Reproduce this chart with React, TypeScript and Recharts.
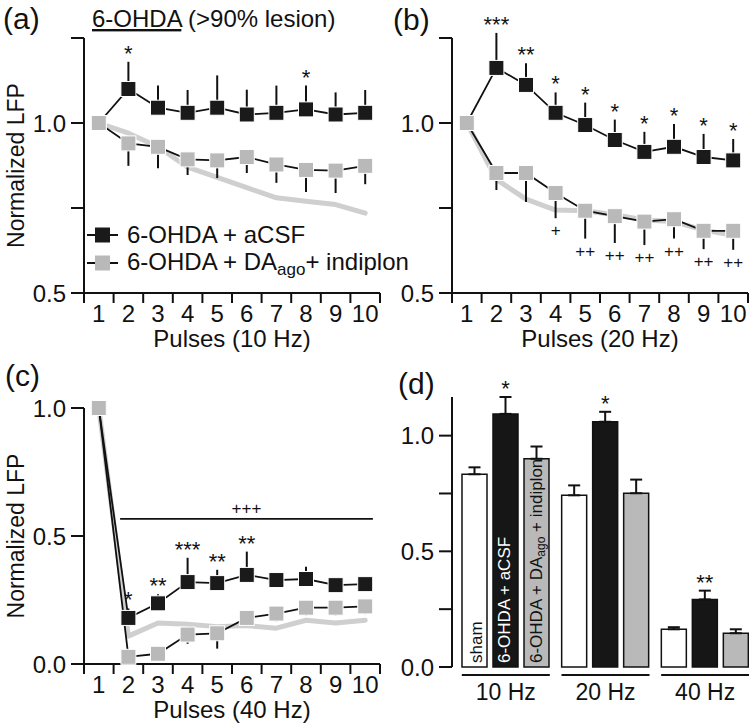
import React from 'react';
import { LineChart, Line, XAxis, YAxis, ErrorBar, LabelList, Legend, ReferenceLine, BarChart, Bar } from 'recharts';

const FONT = '"Liberation Sans", Arial, Helvetica, sans-serif';
const INK = '#111111';
const GRAY_SQ = '#b9b9b9';
const SHAM_LINE = '#cfcfcf';

// ---------- shared x axis ----------
const pulses = [1, 2, 3, 4, 5, 6, 7, 8, 9, 10];
const pulseTicks = [0.5, 1, 1.5, 2, 2.5, 3, 3.5, 4, 4.5, 5, 5.5, 6, 6.5, 7, 7.5, 8, 8.5, 9, 9.5, 10, 10.5];

// ---------- (a) 10 Hz ----------
const acsf10 = [1.0, 1.1, 1.045, 1.03, 1.045, 1.025, 1.03, 1.04, 1.025, 1.03];
const acsf10Err = [0, 0.08, 0.065, 0.067, 0.095, 0.073, 0.08, 0.07, 0.065, 0.067];
const drug10 = [1.0, 0.94, 0.93, 0.893, 0.89, 0.9, 0.878, 0.862, 0.86, 0.874];
const drug10Err = [0, 0.066, 0.063, 0.046, 0.052, 0.047, 0.054, 0.065, 0.066, 0.054];
const sham10 = [1.0, 0.97, 0.93, 0.87, 0.84, 0.81, 0.78, 0.77, 0.76, 0.735];
const stars10 = ['', '*', '', '', '', '', '', '*', '', ''];
const plus10 = ['', '', '', '', '', '', '', '', '', ''];

// ---------- (b) 20 Hz ----------
const acsf20 = [1.0, 1.162, 1.112, 1.03, 0.994, 0.95, 0.915, 0.93, 0.9, 0.89];
const acsf20Err = [0, 0.103, 0.064, 0.06, 0.066, 0.06, 0.059, 0.067, 0.068, 0.063];
const drug20 = [1.0, 0.853, 0.853, 0.794, 0.742, 0.726, 0.71, 0.717, 0.683, 0.683];
const drug20Err = [0, 0.05, 0.085, 0.074, 0.082, 0.079, 0.069, 0.057, 0.054, 0.056];
const sham20 = [1.0, 0.834, 0.776, 0.744, 0.742, 0.73, 0.715, 0.71, 0.685, 0.67];
const stars20 = ['', '***', '**', '*', '*', '*', '*', '*', '*', '*'];
const plus20 = ['', '', '', '+', '++', '++', '++', '++', '++', '++'];

// ---------- (c) 40 Hz ----------
const acsf40 = [1.0, 0.18, 0.237, 0.32, 0.316, 0.348, 0.328, 0.332, 0.308, 0.312];
const acsf40Err = [0, 0.037, 0.035, 0.095, 0.052, 0.091, 0.03, 0.048, 0.01, 0.01];
const drug40 = [1.0, 0.028, 0.04, 0.115, 0.12, 0.18, 0.197, 0.22, 0.22, 0.225];
const drug40Err = [0, 0.02, 0.02, 0.036, 0.06, 0.03, 0.03, 0.03, 0.03, 0.03];
const sham40 = [1.0, 0.109, 0.16, 0.155, 0.146, 0.15, 0.14, 0.171, 0.16, 0.171];
const stars40 = ['', '*', '**', '***', '**', '**', '', '', '', ''];
const plus40 = ['', '', '', '', '', '', '', '', '', ''];
const bracket40 = { from: 1.72, to: 10.26, y: 0.567, label: '+++' };

// ---------- (d) bars ----------
const groups = ['10 Hz', '20 Hz', '40 Hz'];
const shamBar = [0.833, 0.742, 0.163];
const shamBarErr = [0.03, 0.043, 0.009];
const acsfBar = [1.094, 1.06, 0.292];
const acsfBarErr = [0.073, 0.043, 0.038];
const drugBar = [0.9, 0.751, 0.146];
const drugBarErr = [0.053, 0.059, 0.017];
const starsBar = ['*', '*', '**'];

// ---------- axis ticks ----------
const yTicksAB = [0.5, 0.75, 1.0, 1.25];
const yLabelsAB = [0.5, 1.0];
const yTicksC = [0, 0.5, 1.0];
const yLabelsC = [0, 0.5, 1.0];
const yTicksD = [0, 0.25, 0.5, 0.75, 1.0];
const yLabelsD = [0, 0.5, 1.0];

function buildLine(acsf: number[], acsfErr: number[], drug: number[], drugErr: number[], sham: number[], stars: string[], plus: string[]) {
  return pulses.map((p, i) => ({
    p,
    acsf: acsf[i],
    acsfErr: [0, acsfErr[i]],
    drug: drug[i],
    drugErr: [drugErr[i], 0],
    sham: sham[i],
    acsfTop: acsf[i] + acsfErr[i],
    drugBot: drug[i] - drugErr[i],
    star: stars[i],
    plus: plus[i],
  }));
}

const dataA = buildLine(acsf10, acsf10Err, drug10, drug10Err, sham10, stars10, plus10);
const dataB = buildLine(acsf20, acsf20Err, drug20, drug20Err, sham20, stars20, plus20);
const dataC = buildLine(acsf40, acsf40Err, drug40, drug40Err, sham40, stars40, plus40);

const barData = groups.map((g, i) => ({
  g,
  sham: shamBar[i],
  shamErr: [0, shamBarErr[i]],
  acsf: acsfBar[i],
  acsfErr: [0, acsfBarErr[i]],
  drug: drugBar[i],
  drugErr: [0, drugBarErr[i]],
}));

const pick = (p: any, k: string) => (p[k] !== undefined && p[k] !== null ? p[k] : p.viewBox ? p.viewBox[k] : undefined);

const makeSquare = (fill: string) => (props: any) => {
  const { cx, cy, index } = props;
  if (cx == null || cy == null) return <g key={`n${index}`} />;
  return <rect key={`s${index}`} x={cx - 7.5} y={cy - 7.5} width={15} height={15} fill={fill} stroke="#ffffff" strokeWidth={1} />;
};
const blackSquare = makeSquare('#1a1a1a');
const graySquare = makeSquare(GRAY_SQ);

const starLabel = (props: any) => {
  const v = props.value;
  if (!v) return null;
  const x = pick(props, 'x');
  const y = pick(props, 'y');
  return (
    <text x={x} y={y - 1} textAnchor="middle" fontSize={22} fontFamily={FONT} fill={INK}>
      {v}
    </text>
  );
};

const plusLabel = (props: any) => {
  const v = props.value;
  if (!v) return null;
  const x = pick(props, 'x');
  const y = pick(props, 'y');
  return (
    <text x={x} y={y + 18} textAnchor="middle" fontSize={17} fontFamily={FONT} fill={INK}>
      {v}
    </text>
  );
};

const PulseTick = (props: any) => {
  const { x, y, payload } = props;
  const v = payload.value;
  if (Number.isInteger(v)) {
    return (
      <text x={x} y={y + 29} textAnchor="middle" fontSize={24} fontFamily={FONT} fill={INK}>
        {v}
      </text>
    );
  }
  return <line x1={x} y1={y} x2={x} y2={y + 10} stroke={INK} strokeWidth={2} />;
};

const GroupTick = (props: any) => {
  const { x, y, payload } = props;
  return (
    <g>
      <line x1={x - 44} x2={x + 44} y1={y + 8} y2={y + 8} stroke={INK} strokeWidth={2} />
      <text x={x} y={y + 33} textAnchor="middle" fontSize={23} fontFamily={FONT} fill={INK}>
        {payload.value}
      </text>
    </g>
  );
};

const yAxisLabel = (props: any) => {
  const vb = props.viewBox || {};
  const cy = vb.y + vb.height / 2;
  return (
    <text x={24} y={cy} transform={`rotate(-90 24 ${cy})`} textAnchor="middle" fontSize={23} fontFamily={FONT} fill={INK}>
      Normalized LFP
    </text>
  );
};

const xAxisLabel = (text: string) => (props: any) => {
  const vb = props.viewBox || {};
  return (
    <text x={vb.x + vb.width / 2} y={vb.y + 54} textAnchor="middle" fontSize={24} fontFamily={FONT} fill={INK}>
      {text}
    </text>
  );
};

const fmt = (labels: number[]) => (v: number) => (labels.some((l) => Math.abs(l - v) < 1e-9) ? v.toFixed(1) : '');

const yTickStyle = { fontSize: 24, fill: INK, fontFamily: FONT };

const renderLegend = () => {
  const marker = (fill: string) => (
    <svg width={31} height={16} style={{ display: 'block', marginRight: 9 }}>
      <line x1={0} x2={31} y1={8} y2={8} stroke={INK} strokeWidth={2} />
      <rect x={8} y={0.5} width={15} height={15} fill={fill} />
    </svg>
  );
  const row: React.CSSProperties = { display: 'flex', alignItems: 'center', height: 28, whiteSpace: 'nowrap' };
  return (
    <div style={{ fontFamily: FONT, fontSize: 24, color: INK, lineHeight: '28px' }}>
      <div style={row}>
        {marker('#1a1a1a')}
        <span>6-OHDA + aCSF</span>
      </div>
      <div style={row}>
        {marker(GRAY_SQ)}
        <span>
          6-OHDA + DA<span style={{ fontSize: 17, position: 'relative', top: 5 }}>ago</span>+ indiplon
        </span>
      </div>
    </div>
  );
};

function seriesLines() {
  return [
    <Line key="sham" dataKey="sham" type="linear" stroke={SHAM_LINE} strokeWidth={5} strokeLinecap="round" strokeLinejoin="round" dot={false} activeDot={false} isAnimationActive={false} />,
    <Line key="acsf" dataKey="acsf" type="linear" stroke={INK} strokeWidth={1.8} dot={blackSquare} activeDot={false} isAnimationActive={false}>
      <ErrorBar dataKey="acsfErr" direction="y" width={0} stroke={INK} strokeWidth={2} isAnimationActive={false} />
    </Line>,
    <Line key="drug" dataKey="drug" type="linear" stroke={INK} strokeWidth={1.8} dot={graySquare} activeDot={false} isAnimationActive={false}>
      <ErrorBar dataKey="drugErr" direction="y" width={0} stroke={INK} strokeWidth={2} isAnimationActive={false} />
    </Line>,
    <Line key="top" dataKey="acsfTop" stroke="none" dot={false} activeDot={false} isAnimationActive={false}>
      <LabelList dataKey="star" content={starLabel} />
    </Line>,
    <Line key="bot" dataKey="drugBot" stroke="none" dot={false} activeDot={false} isAnimationActive={false}>
      <LabelList dataKey="plus" content={plusLabel} />
    </Line>,
  ];
}

export default function App() {
  return (
    <div style={{ position: 'absolute', left: 0, top: 0, width: 749, height: 725, overflow: 'hidden', background: '#fff', fontFamily: FONT }}>
      {/* (a) */}
      <div style={{ position: 'absolute', left: 0, top: 0 }}>
        <LineChart width={390} height={362} data={dataA} margin={{ top: 38, right: 10, bottom: 0, left: 0 }}>
          <XAxis type="number" dataKey="p" domain={[0.5, 10.5]} ticks={pulseTicks} interval={0} tick={PulseTick} tickLine={false} tickSize={0} tickMargin={0} height={69} stroke={INK} strokeWidth={2} label={xAxisLabel('Pulses (10 Hz)')} />
          <YAxis type="number" domain={[0.5, 1.25]} ticks={yTicksAB} interval={0} tickFormatter={fmt(yLabelsAB)} width={84} stroke={INK} strokeWidth={2} tickSize={13} tickMargin={5} tick={yTickStyle} label={yAxisLabel} />
          {seriesLines()}
          <Legend layout="horizontal" verticalAlign="middle" align="center" content={renderLegend} wrapperStyle={{ left: 87, top: 221, width: 360 }} />
        </LineChart>
      </div>
      {/* (b) */}
      <div style={{ position: 'absolute', left: 368, top: 0 }}>
        <LineChart width={381} height={362} data={dataB} margin={{ top: 38, right: 1, bottom: 0, left: 0 }}>
          <XAxis type="number" dataKey="p" domain={[0.5, 10.5]} ticks={pulseTicks} interval={0} tick={PulseTick} tickLine={false} tickSize={0} tickMargin={0} height={69} stroke={INK} strokeWidth={2} label={xAxisLabel('Pulses (20 Hz)')} />
          <YAxis type="number" domain={[0.5, 1.25]} allowDataOverflow ticks={yTicksAB} interval={0} tickFormatter={fmt(yLabelsAB)} width={84} stroke={INK} strokeWidth={2} tickSize={13} tickMargin={5} tick={yTickStyle} />
          {seriesLines()}
        </LineChart>
      </div>
      {/* (c) */}
      <div style={{ position: 'absolute', left: 0, top: 370 }}>
        <LineChart width={390} height={355} data={dataC} margin={{ top: 38, right: 10, bottom: 0, left: 0 }}>
          <XAxis type="number" dataKey="p" domain={[0.5, 10.5]} ticks={pulseTicks} interval={0} tick={PulseTick} tickLine={false} tickSize={0} tickMargin={0} height={61} stroke={INK} strokeWidth={2} label={xAxisLabel('Pulses (40 Hz)')} />
          <YAxis type="number" domain={[0, 1]} ticks={yTicksC} interval={0} tickFormatter={fmt(yLabelsC)} width={84} stroke={INK} strokeWidth={2} tickSize={13} tickMargin={5} tick={yTickStyle} label={yAxisLabel} />
          <ReferenceLine
            segment={[{ x: bracket40.from, y: bracket40.y }, { x: bracket40.to, y: bracket40.y }]}
            stroke={INK}
            strokeWidth={1.8}
            ifOverflow="visible"
            label={{ value: bracket40.label, position: 'top', fontSize: 17, fill: INK, fontFamily: FONT }}
          />
          {seriesLines()}
        </LineChart>
      </div>
      {/* (d) */}
      <div style={{ position: 'absolute', left: 368, top: 360 }}>
        <BarChart width={387} height={357} data={barData} margin={{ top: 37, right: 0, bottom: 0, left: 0 }} barSize={25} barGap={6}>
          <XAxis dataKey="g" axisLine={false} tickLine={false} tickSize={0} tickMargin={0} height={50} interval={0} tick={GroupTick} padding={{ left: 4, right: 0 }} />
          <YAxis type="number" domain={[0, 1.16]} ticks={yTicksD} interval={0} tickFormatter={fmt(yLabelsD)} width={84} stroke={INK} strokeWidth={2} tickSize={13} tickMargin={5} tick={yTickStyle} />
          <Bar dataKey="sham" fill="#ffffff" stroke={INK} strokeWidth={1.5} isAnimationActive={false}>
            <ErrorBar dataKey="shamErr" direction="y" width={6} stroke={INK} strokeWidth={2} isAnimationActive={false} />
            <LabelList
              dataKey="sham"
              content={(props: any) => {
                if (props.index !== 0) return null;
                const x = pick(props, 'x'), y = pick(props, 'y'), w = pick(props, 'width'), h = pick(props, 'height');
                const cx = x + w / 2 + 7, by = y + h - 4;
                return (
                  <text x={cx} y={by} transform={`rotate(-90 ${cx} ${by})`} fontSize={17} fontFamily={FONT} fill={INK}>
                    sham
                  </text>
                );
              }}
            />
          </Bar>
          <Bar dataKey="acsf" fill="#161616" stroke={INK} strokeWidth={1.5} isAnimationActive={false}>
            <ErrorBar dataKey="acsfErr" direction="y" width={6} stroke={INK} strokeWidth={2} isAnimationActive={false} />
            <LabelList
              dataKey="acsf"
              content={(props: any) => {
                if (props.index !== 0) return null;
                const x = pick(props, 'x'), y = pick(props, 'y'), w = pick(props, 'width'), h = pick(props, 'height');
                const cx = x + w / 2 + 4, by = y + h - 4;
                return (
                  <text x={cx} y={by} transform={`rotate(-90 ${cx} ${by})`} fontSize={17} fontFamily={FONT} fill="#ffffff">
                    6-OHDA + aCSF
                  </text>
                );
              }}
            />
            <LabelList
              dataKey="acsf"
              content={(props: any) => {
                const i = props.index;
                const x = pick(props, 'x'), y = pick(props, 'y'), w = pick(props, 'width'), h = pick(props, 'height');
                const perUnit = h / acsfBar[i];
                const top = y - acsfBarErr[i] * perUnit;
                return (
                  <text x={x + w / 2} y={top - 1} textAnchor="middle" fontSize={22} fontFamily={FONT} fill={INK}>
                    {starsBar[i]}
                  </text>
                );
              }}
            />
          </Bar>
          <Bar dataKey="drug" fill={GRAY_SQ} stroke={INK} strokeWidth={1.5} isAnimationActive={false}>
            <ErrorBar dataKey="drugErr" direction="y" width={6} stroke={INK} strokeWidth={2} isAnimationActive={false} />
            <LabelList
              dataKey="drug"
              content={(props: any) => {
                if (props.index !== 0) return null;
                const x = pick(props, 'x'), y = pick(props, 'y'), w = pick(props, 'width'), h = pick(props, 'height');
                const cx = x + w / 2 + 5, by = y + h - 4;
                return (
                  <text x={cx} y={by} transform={`rotate(-90 ${cx} ${by})`} fontSize={17} fontFamily={FONT} fill={INK}>
                    6-OHDA + DA
                    <tspan fontSize={12} dy={3}>ago</tspan>
                    <tspan dy={-3}> + indiplon</tspan>
                  </text>
                );
              }}
            />
          </Bar>
        </BarChart>
      </div>
      {/* panel letters and title */}
      <svg width={749} height={725} style={{ position: 'absolute', left: 0, top: 0, pointerEvents: 'none' }}>
        <text x={3} y={29} fontSize={30} fontFamily={FONT} fill={INK}>(a)</text>
        <text x={92} y={27} fontSize={24} fontFamily={FONT} fill={INK}>
          <tspan style={{ textDecoration: 'underline' }}>6-OHDA</tspan> (&gt;90% lesion)
        </text>
        <text x={393} y={30} fontSize={30} fontFamily={FONT} fill={INK}>(b)</text>
        <text x={5} y={386} fontSize={30} fontFamily={FONT} fill={INK}>(c)</text>
        <text x={398} y={394} fontSize={30} fontFamily={FONT} fill={INK}>(d)</text>
      </svg>
    </div>
  );
}
